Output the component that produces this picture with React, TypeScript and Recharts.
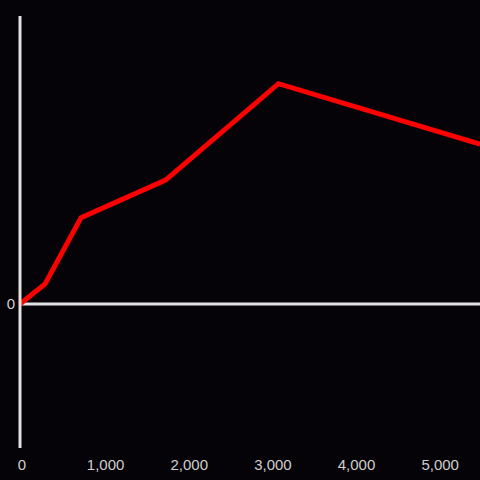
import { LineChart, Line, XAxis, YAxis, ReferenceLine } from "recharts"

// x positions and values
const xValues = [0, 300, 730, 1740, 3090, 5500]
const yValues = [0, 7, 30, 43, 76.5, 55.5]
const xTicks = [0, 1000, 2000, 3000, 4000, 5000]
const yTicks = [0]

const data = xValues.map((x, i) => ({ x, y: yValues[i] }))

const axisColor = "#e2e2e2"
const textColor = "#cfcfcf"

export default function App() {
  return (
    <div
      style={{
        position: "fixed",
        left: 0,
        top: 0,
        width: 480,
        height: 480,
        background: "#050307",
        fontFamily: "'Liberation Sans', Arial, sans-serif",
      }}
    >
      <LineChart width={480} height={480} data={data} margin={{ top: 16, right: 0, left: 0, bottom: 0 }}>
        <XAxis
          dataKey="x"
          type="number"
          domain={[0, 5500]}
          ticks={xTicks}
          axisLine={false}
          tickLine={false}
          height={32}
          tickMargin={5}
          tick={{ fill: textColor, fontSize: 15, dx: 2 }}
          tickFormatter={(v: number) => v.toLocaleString("en-US")}
        />
        <YAxis
          type="number"
          domain={[-50, 100]}
          ticks={yTicks}
          width={20}
          axisLine={{ stroke: axisColor, strokeWidth: 3 }}
          tickLine={false}
          tickMargin={2}
          tick={{ fill: textColor, fontSize: 15, dx: 3 }}
        />
        <ReferenceLine y={0} stroke={axisColor} strokeWidth={3} />
        <Line
          type="linear"
          dataKey="y"
          stroke="#ff0000"
          strokeWidth={5}
          dot={false}
          isAnimationActive={false}
        />
      </LineChart>
    </div>
  )
}
